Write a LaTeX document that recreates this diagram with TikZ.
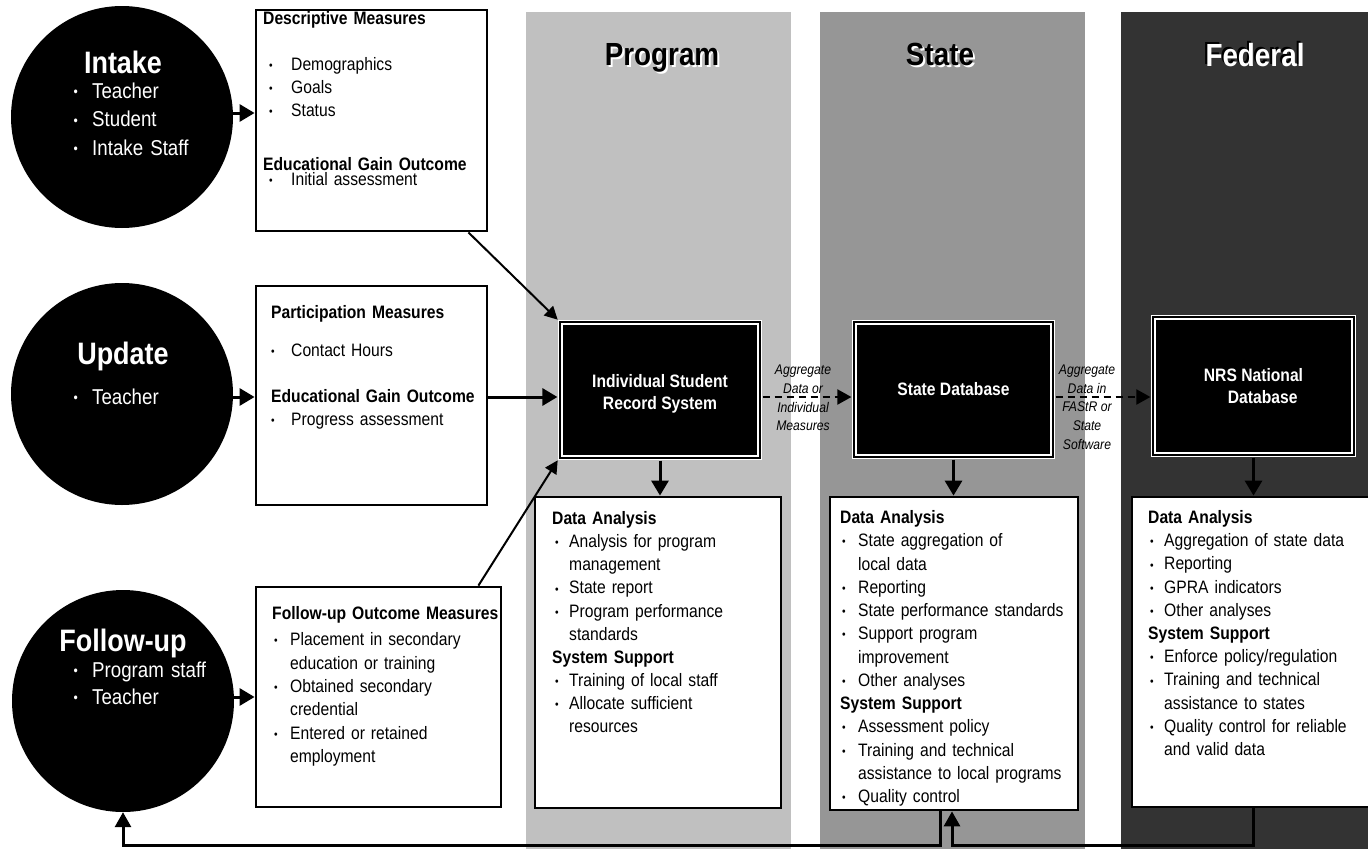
\documentclass[tikz,border=0pt]{standalone}
\usepackage{fontspec}
\setmainfont{Liberation Sans}[FakeStretch=0.87]
\usetikzlibrary{arrows.meta,calc}
\definecolor{progc}{RGB}{192,192,192}
\definecolor{statec}{RGB}{150,150,150}
\definecolor{fedc}{RGB}{51,51,51}
\newlength\bind \newlength\boff
\newcommand{\Hd}[1]{\noindent\strut\textbf{#1}}
\newcommand{\hd}[1]{\par\Hd{#1}}
\newcommand{\Bu}[1]{\noindent\hangindent=\bind\hangafter=1\strut\makebox[\bind][l]{\hspace*{\boff}\raisebox{.05em}{\scalebox{0.65}{\textbullet}}}#1}
\newcommand{\bu}[1]{\par\Bu{#1}}
\tikzset{
  wbox/.style={draw=black, fill=white, line width=2.8pt, inner sep=0pt},
  dbox/.style={fill=black, draw=white, double=black, line width=1.2pt, double distance=2.2pt,
    inner sep=0pt, text=white, font=\fontsize{18}{21.5}\selectfont\bfseries, align=center},
  dtxt/.style={inner sep=0pt, text=white, font=\fontsize{18}{21.5}\selectfont\bfseries, align=center},
  circ/.style={circle, fill=black, inner sep=0pt, minimum size=222pt},
  txt/.style={inner sep=0pt, anchor=base west, text width=#1},
  ctitle/.style={text=white, inner sep=0pt, anchor=base, font=\fontsize{31}{37}\selectfont\bfseries},
  ttl/.style={inner sep=0pt, anchor=base, font=\fontsize{32}{38}\selectfont\bfseries},
  lab/.style={inner sep=0pt, align=center, font=\fontsize{14}{18.7}\selectfont\itshape},
  arr/.style={line width=3pt, -{Triangle[length=15pt,width=17pt]}},
  thin/.style={line width=2pt, -{Triangle[length=13pt,width=13pt]}},
  dsh/.style={line width=2pt, dash pattern=on 7pt off 5pt, -{Triangle[length=14pt,width=15pt]}},
  fba/.style={line width=3pt, -{Triangle[length=15pt,width=16pt]}},
}
\begin{document}
\begin{tikzpicture}[x=1pt,y=-1pt]
\useasboundingbox (0,0) rectangle (1368,849);
% bands
\fill[progc] (526,12) rectangle (791,849);
\fill[statec] (820,12) rectangle (1085,849);
\fill[fedc] (1121,12) rectangle (1368,849);
% titles
\node[ttl, text=white] (tprog-s) at (664,67) {Program};
\node[ttl] (tprog) at (662,65) {Program};
\node[ttl, text=white] (tstate-s) at (942,67) {State};
\node[ttl] (tstate) at (940,65) {State};
\node[ttl, text=black] (tfed-s) at (1253,64) {Federal};
\node[ttl, text=white] (tfed) at (1255,66) {Federal};
% helper coordinates
\coordinate (row) at (0,397);
\coordinate (bot) at (0,845);
\coordinate (xL) at (940.5,0);
\coordinate (xR) at (952,0);
% circles
\node[circ] (intake) at (122,117) {};
\node[circ] (update) at (122,394) {};
\node[circ] (fcirc) at (123,701) {};
\node[ctitle] (intake-t) at (123,73) {Intake};
\node[txt=150pt, text=white, font=\fontsize{21.5}{28.5}\selectfont] (intake-l) at (72,98)
  {\setlength\bind{20pt}\setlength\boff{1.5pt}\Bu{Teacher}\bu{Student}\bu{Intake Staff}\par};
\node[ctitle] (update-t) at (123,364) {Update};
\node[txt=150pt, text=white, font=\fontsize{21.5}{28.5}\selectfont] (update-l) at (72,404)
  {\setlength\bind{20pt}\setlength\boff{1.5pt}\Bu{Teacher}\par};
\node[ctitle] (fcirc-t) at (123,651) {Follow-up};
\node[txt=150pt, text=white, font=\fontsize{21.5}{27}\selectfont] (fcirc-l) at (72,677)
  {\setlength\bind{20pt}\setlength\boff{1.5pt}\Bu{Program staff}\bu{Teacher}\par};
% white boxes
\node[wbox, minimum width=231pt, minimum height=221pt] (desc) at (371.5,120.5) {};
\node[wbox, minimum width=231pt, minimum height=219pt] (part) at (371.5,395.5) {};
\node[wbox, minimum width=245pt, minimum height=220pt] (fup) at (378.5,697) {};
\node[wbox, minimum width=246pt, minimum height=311pt] (pdata) at (658,652.5) {};
\node[wbox, minimum width=248pt, minimum height=313pt] (sdata) at (954,653.5) {};
\node[wbox, minimum width=240pt, minimum height=310pt] (fdata) at (1252,652) {};
% box texts
\node[txt=222pt, font=\fontsize{18}{22.7}\selectfont] (desc-t) at (263,24)
  {\setlength\bind{28pt}\setlength\boff{6pt}%
   \Hd{Descriptive Measures}\par\vspace{24pt}%
   \Bu{Demographics}\bu{Goals}\bu{Status}\par\vspace{31.3pt}%
   \Hd{Educational Gain Outcome}\par\vspace{-7pt}%
   \Bu{Initial assessment}\par};
\node[txt=214pt, font=\fontsize{18}{22.7}\selectfont] (part-t) at (271,318.5)
  {\setlength\bind{20pt}\setlength\boff{0pt}%
   \Hd{Participation Measures}\par\vspace{15.3pt}%
   \Bu{Contact Hours}\par\vspace{23.3pt}%
   \Hd{Educational Gain Outcome}%
   \bu{Progress assessment}\par};
\node[txt=228pt, font=\fontsize{18}{23.3}\selectfont] (fup-t) at (272,619)
  {\setlength\bind{18pt}\setlength\boff{2pt}%
   \Hd{Follow-up Outcome Measures}\par\vspace{3.5pt}%
   \Bu{Placement in secondary\newline education or training}%
   \bu{Obtained secondary\newline credential}%
   \bu{Entered or retained\newline employment}\par};
\node[txt=226pt, font=\fontsize{18}{23.15}\selectfont] (pdata-t) at (552,524.5)
  {\setlength\bind{17pt}\setlength\boff{3pt}%
   \Hd{Data Analysis}%
   \bu{Analysis for program\newline management}%
   \bu{State report}%
   \bu{Program performance\newline standards}%
   \hd{System Support}%
   \bu{Training of local staff}%
   \bu{Allocate sufficient\newline resources}\par};
\node[txt=236pt, font=\fontsize{18}{23.25}\selectfont] (sdata-t) at (840,523.5)
  {\setlength\bind{18pt}\setlength\boff{2pt}%
   \Hd{Data Analysis}%
   \bu{State aggregation of\newline local data}%
   \bu{Reporting}%
   \bu{State performance standards}%
   \bu{Support program\newline improvement}%
   \bu{Other analyses}%
   \hd{System Support}%
   \bu{Assessment policy}%
   \bu{Training and technical\newline assistance to local programs}%
   \bu{Quality control}\par};
\node[txt=215pt, font=\fontsize{18}{23.2}\selectfont] (fdata-t) at (1148,523.5)
  {\setlength\bind{16pt}\setlength\boff{2pt}%
   \Hd{Data Analysis}%
   \bu{Aggregation of state data}%
   \bu{Reporting}%
   \bu{GPRA indicators}%
   \bu{Other analyses}%
   \hd{System Support}%
   \bu{Enforce policy/regulation}%
   \bu{Training and technical\newline assistance to states}%
   \bu{Quality control for reliable\newline and valid data}\par};
% dark boxes
\node[dbox, minimum width=199.4pt, minimum height=135.4pt] (isrs) at (660,390) {};
\node[dtxt] (isrs-t) at (660,394) {Individual Student\\Record System};
\node[dbox, minimum width=198.4pt, minimum height=134.4pt] (sdb) at (953.5,389.5) {State Database};
\node[dbox, minimum width=200.4pt, minimum height=137.4pt, align=left] (nrs) at (1253.5,386) {NRS National\\\hspace*{24pt}Database};
% arrows from circles
\draw[arr] ([yshift=4pt]intake.east) -- ([yshift=4pt]intake.east -| desc.west);
\draw[arr] ([yshift=-3pt]update.east) -- ([yshift=-3pt]update.east -| part.west);
\draw[arr] ([yshift=4pt]fcirc.east) -- ([yshift=4pt]fcirc.east -| fup.west);
% arrows into ISRS
\draw[thin] ([xshift=-20pt]desc.south east) -- ([xshift=-2pt,yshift=2pt]isrs.north west);
\draw[arr] (part.east |- row) -- ([xshift=-2.3pt]isrs.west |- row);
\draw[thin] ([xshift=-24pt]fup.north east) -- ([xshift=-2pt,yshift=-2pt]isrs.south west);
% dashed arrows
\draw[dsh] ([xshift=2.3pt]isrs.east |- row) -- ([xshift=-2.3pt]sdb.west |- row);
\draw[dsh] ([xshift=2.3pt]sdb.east |- row) -- ([xshift=-2.3pt]nrs.west |- row);
\node[lab] (lab1) at (803,398) {Aggregate\\Data or\\Individual\\Measures};
\node[lab] (lab2) at (1087,407) {Aggregate\\Data in\\FAStR or\\State\\Software};
% down arrows
\draw[arr] ([yshift=-2.3pt]isrs.south) -- (isrs.south |- pdata.north);
\draw[arr] ([yshift=-2.3pt]sdb.south) -- (sdb.south |- sdata.north);
\draw[arr] ([yshift=-2.3pt]nrs.south) -- (nrs.south |- fdata.north);
% feedback lines
\draw[fba] (sdata.south -| xL) -- (xL |- bot) -- (fcirc.south |- bot) -- (fcirc.south);
\draw[fba] (fdata.south -| nrs.south) -- (nrs.south |- bot) -- (xR |- bot) -- (sdata.south -| xR);
\end{tikzpicture}
\end{document}
